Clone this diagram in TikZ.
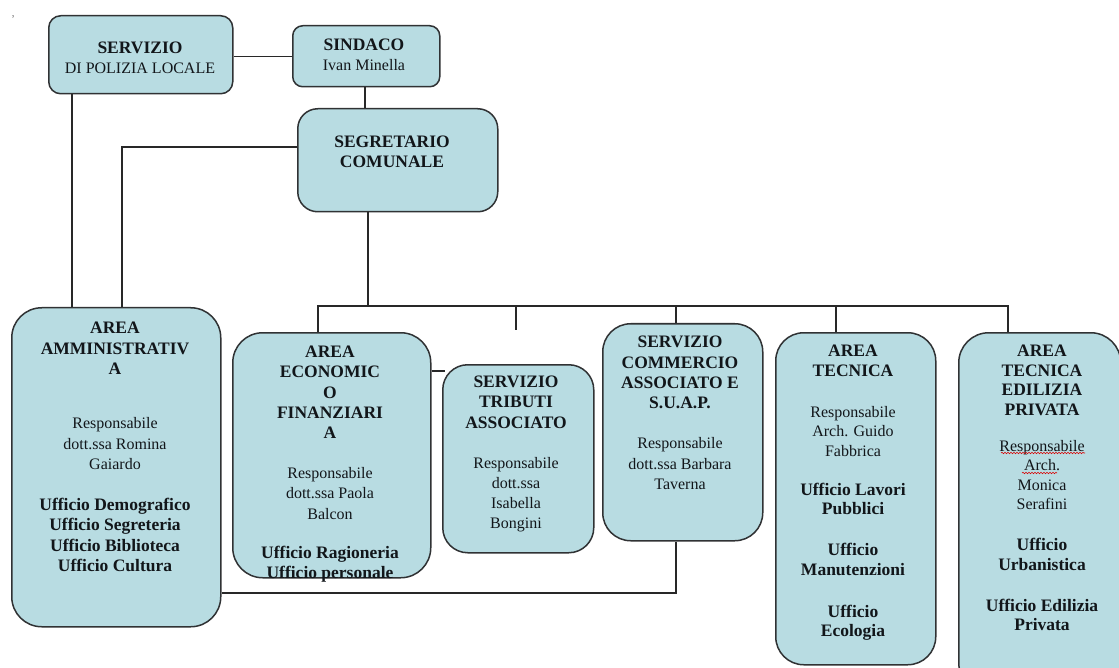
\documentclass[tikz,border=0pt]{standalone}
\usepackage{fontspec}
\setmainfont{Liberation Serif}
\usetikzlibrary{decorations.pathmorphing}
\definecolor{boxfill}{RGB}{184,220,226}
\definecolor{boxline}{RGB}{48,50,52}
\definecolor{linec}{RGB}{40,40,40}
\definecolor{textc}{RGB}{18,22,26}
\newcommand\hb[1]{{\fontsize{17.5}{20}\selectfont\bfseries #1}}
\tikzset{
  box/.style={draw=boxline, fill=boxfill, line width=1.5pt, inner sep=0pt, anchor=north west},
  txt/.style={align=center, inner sep=0pt, anchor=north, text=textc},
  conn/.style={draw=linec, line width=1.3pt},
  squig/.style={draw=red!85!black, line width=0.6pt, decorate, decoration={snake, segment length=3pt, amplitude=0.7pt}}
}
\begin{document}
\begin{tikzpicture}[x=1pt,y=-1pt]
\path[use as bounding box, clip] (0,0) rectangle (1119,668);
\fill[white] (0,0) rectangle (1119,668);

% boxes
\node[box, minimum width=184pt, minimum height=78pt, rounded corners=12pt] (polizia) at (48,15) {};
\node[box, minimum width=147pt, minimum height=61pt, rounded corners=10pt] (sindaco) at (292,25) {};
\node[box, minimum width=200pt, minimum height=103pt, rounded corners=20pt] (segr) at (297,108) {};
\node[box, minimum width=209pt, minimum height=319pt, rounded corners=30pt] (amm) at (11,307) {};
\node[box, minimum width=198pt, minimum height=245pt, rounded corners=30pt] (econ) at (232,332) {};
\node[box, minimum width=151pt, minimum height=188pt, rounded corners=25pt] (trib) at (442,364) {};
\node[box, minimum width=160pt, minimum height=217pt, rounded corners=28pt] (comm) at (602,323) {};
\node[box, minimum width=160pt, minimum height=332pt, rounded corners=28pt] (tec) at (775,332) {};
\node[box, minimum width=162pt, minimum height=360pt, rounded corners=30pt] (edil) at (958,332) {};

% texts
\node[txt, font=\fontsize{16}{20}\selectfont] (poliziaT) at (140,42) {\hb{SERVIZIO}\\DI POLIZIA LOCALE};
\node[txt, font=\fontsize{16}{20}\selectfont] (sindacoT) at (364,39) {\hb{SINDACO}\\Ivan Minella};
\node[txt, font=\fontsize{16}{20}\selectfont] (segrT) at (392,136) {\hb{SEGRETARIO}\\\hb{COMUNALE}};
\node[txt, font=\fontsize{16}{20.5}\selectfont] (ammT) at (115,322) {\hb{AREA}\\\hb{AMMINISTRATIV}\\\hb{A}\\[33.5pt]
  Responsabile\\dott.ssa Romina\\Gaiardo\\[20pt]
  \hb{Ufficio Demografico}\\\hb{Ufficio Segreteria}\\\hb{Ufficio Biblioteca}\\\hb{Ufficio Cultura}};
\node[txt, font=\fontsize{16}{20.2}\selectfont] (econT) at (330,346) {\hb{AREA}\\\hb{ECONOMIC}\\\hb{O}\\\hb{FINANZIARI}\\\hb{A}\\[20pt]
  Responsabile\\dott.ssa Paola\\Balcon\\[19pt]
  \hb{Ufficio Ragioneria}\\\hb{Ufficio personale}};
\node[txt, font=\fontsize{16}{20.2}\selectfont] (tribT) at (516,376) {\hb{SERVIZIO}\\\hb{TRIBUTI}\\\hb{ASSOCIATO}\\[20pt]
  Responsabile\\dott.ssa\\Isabella\\Bongini};
\node[txt, font=\fontsize{16}{20.3}\selectfont] (commT) at (680,336) {\hb{SERVIZIO}\\\hb{COMMERCIO}\\\hb{ASSOCIATO E}\\\hb{S.U.A.P.}\\[20pt]
  Responsabile\\dott.ssa Barbara\\Taverna};
\node[txt, font=\fontsize{16}{19.5}\selectfont] (tecT) at (853,345) {\hb{AREA}\\\hb{TECNICA}\\[21.5pt]
  Responsabile\\Arch. Guido\\Fabbrica\\[19.5pt]
  \hb{Ufficio Lavori}\\\hb{Pubblici}\\[21.5pt]
  \hb{Ufficio}\\\hb{Manutenzioni}\\[22.5pt]
  \hb{Ufficio}\\\hb{Ecologia}};
\node[txt, font=\fontsize{16}{19.5}\selectfont] (edilT) at (1042,345) {\hb{AREA}\\\hb{TECNICA}\\\hb{EDILIZIA}\\\hb{PRIVATA}\\[16.5pt]
  Responsabile\\Arch.\\Monica\\Serafini\\[21.5pt]
  \hb{Ufficio}\\\hb{Urbanistica}\\[21.5pt]
  \hb{Ufficio Edilizia}\\\hb{Privata}};
\node[inner sep=0pt, text=gray, font=\fontsize{12}{12}\selectfont] (tick) at (13,20) {\textquoteright};

% spell-check squiggles
\draw[squig] (1001,453) -- (1085,453);
\draw[squig] (1022,473) -- (1057,473);

% connectors
\coordinate (k0) at (72,0);
\coordinate (k1) at (122,147);
\coordinate (busS) at (368,306);
\coordinate (busL) at (318,306);
\coordinate (busR) at (1008,306);
\coordinate (stub) at (516,330);
\coordinate (bc) at (676,306);
\coordinate (bt) at (836,306);
\coordinate (k2) at (445,371);
\coordinate (k3) at (676,593);

\draw[conn] (polizia.east |- sindaco.west) -- (sindaco.west);
\draw[conn] (sindaco.south -| 365,0) -- (segr.north -| 365,0);
\draw[conn] (k0 |- polizia.south) -- (k0 |- amm.north);
\draw[conn] (segr.west |- k1) -- (k1) -- (k1 |- amm.north);
\draw[conn] (busS |- segr.south) -- (busS);
\draw[conn] (busL |- econ.north) -- (busL) -- (busR) -- (busR |- edil.north);
\draw[conn] (stub |- busL) -- (stub);
\draw[conn] (bc) -- (bc |- comm.north);
\draw[conn] (bt) -- (bt |- tec.north);
\draw[conn] (econ.east |- k2) -- (k2);
\draw[conn] (k3 |- comm.south) -- (k3) -- (amm.east |- k3);
\end{tikzpicture}
\end{document}
